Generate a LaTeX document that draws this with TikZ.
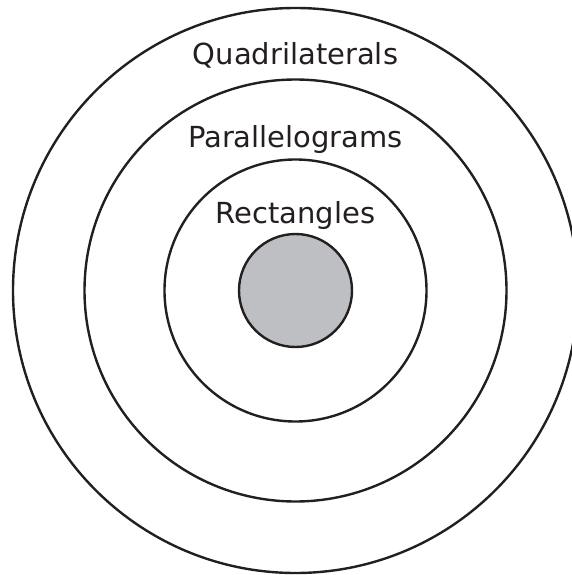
\documentclass[tikz,border=0pt]{standalone}
\usepackage{fontspec}
\setmainfont{DejaVu Sans}
\definecolor{ink}{HTML}{231F20}
\definecolor{core}{HTML}{BEBFC3}
\begin{document}
\begin{tikzpicture}[x=1pt,y=-1pt,
  ring/.style={draw=ink,line width=2.4pt},
  lbl/.style={anchor=base,inner sep=0pt,text=ink,font=\fontsize{29}{34}\selectfont}]
\useasboundingbox (0,0) rectangle (572,575);
\begin{scope}
\clip (0,0) rectangle (572,575);
\coordinate (c) at (295.5,290.5);
\node[ring,circle,minimum size=565pt,inner sep=0pt] (quad) at (c) {};
\node[ring,circle,minimum size=422pt,inner sep=0pt] (para) at (c) {};
\node[ring,circle,minimum size=262pt,inner sep=0pt] (rect) at (c) {};
\node[ring,circle,fill=core,minimum size=113pt,inner sep=0pt] (sq) at (c) {};
\end{scope}
\node[lbl] (tq) at (295.5,65) {Quadrilaterals};
\node[lbl] (tp) at (295.5,147) {Parallelograms};
\node[lbl] (tr) at (295.5,223) {Rectangles};
\end{tikzpicture}
\end{document}
